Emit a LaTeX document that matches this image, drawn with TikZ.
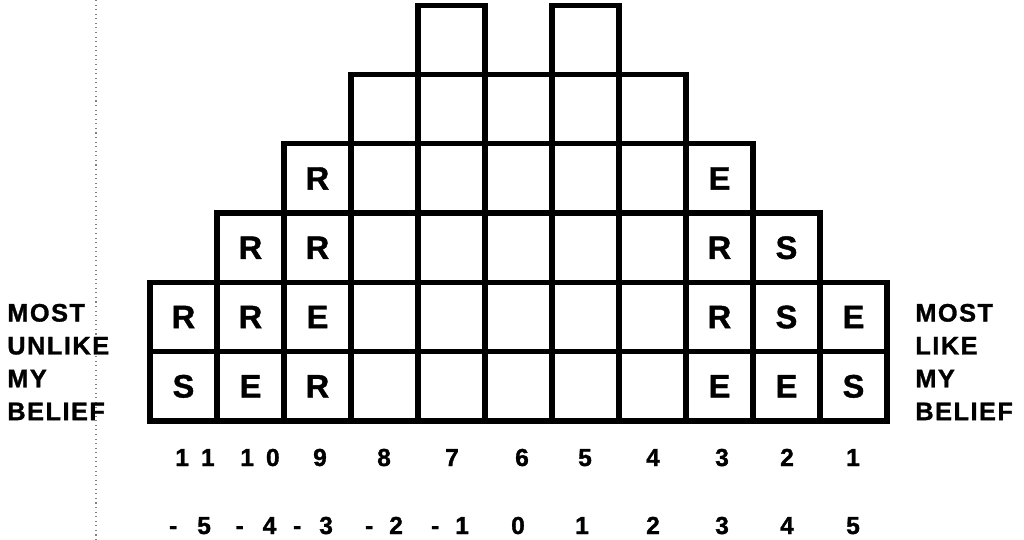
\documentclass[tikz,border=0pt]{standalone}
\usepackage{fontspec}
\setmainfont{Liberation Sans}[BoldFeatures={FakeBold=1.2}]
\usetikzlibrary{positioning}

\begin{document}
\begin{tikzpicture}[
  x=0.02cm, y=-0.02cm,
  every node/.style={font=\bfseries},
  cell/.style={draw, line width=3pt, minimum width=1.34cm, minimum height=1.386cm, inner sep=0pt},
  letter/.style={font=\fontsize{18.5}{20}\selectfont\bfseries},
  side/.style={align=left, anchor=west, inner sep=0pt,
    font=\fontsize{14.4}{18.7}\selectfont\bfseries\addfontfeatures{LetterSpace=6}},
  num/.style={inner sep=0pt, anchor=base, font=\fontsize{14}{16}\selectfont\bfseries}
]
\useasboundingbox (0,0) rectangle (1024,540);
\coordinate (dtop) at (96,0);
\coordinate (dbot) at (96,540);
\draw[dotted, gray, line width=0.6pt] (dtop) -- (dbot);
\foreach \i/\h in {1/2,2/3,3/4,4/5,5/6,6/5,7/6,8/5,9/4,10/3,11/2}
  \foreach \r in {1,...,\h}
    \node[cell] (c\i-\r) at ({183.5+(\i-1)*67}, {421-(\r-0.5)*69.3}) {};
\foreach \i/\r/\t in {1/1/S,1/2/R,2/1/E,2/2/R,2/3/R,3/1/R,3/2/E,3/3/R,3/4/R,
    9/1/E,9/2/R,9/3/R,9/4/E,10/1/E,10/2/S,10/3/S,11/1/S,11/2/E}
  \node[letter] (l\i-\r) at (c\i-\r) {\t};
\node[side] (unlike) at (7,362) {MOST\\UNLIKE\\MY\\BELIEF};
\node[side] (like) at (915,362) {MOST\\LIKE\\MY\\BELIEF};
\foreach \x/\t [count=\k] in {195/1\hspace{.24cm}1, 260/1\hspace{.24cm}0, 320/9, 384/8,
    452/7, 522/6, 585/5, 653/4, 722/3, 787/2, 853/1}
  \node[num] (rank\k) at (\x,466) {\t};
\foreach \x/\t [count=\k] in {190/-\hspace{.4cm}5, 256/-\hspace{.38cm}4, 313/-\hspace{.36cm}3,
    384/-\hspace{.32cm}2, 450/-\hspace{.32cm}1, 518/0, 582/1, 653/2, 722/3, 787/4, 853/5}
  \node[num] (score\k) at (\x,534) {\t};
\end{tikzpicture}
\end{document}
